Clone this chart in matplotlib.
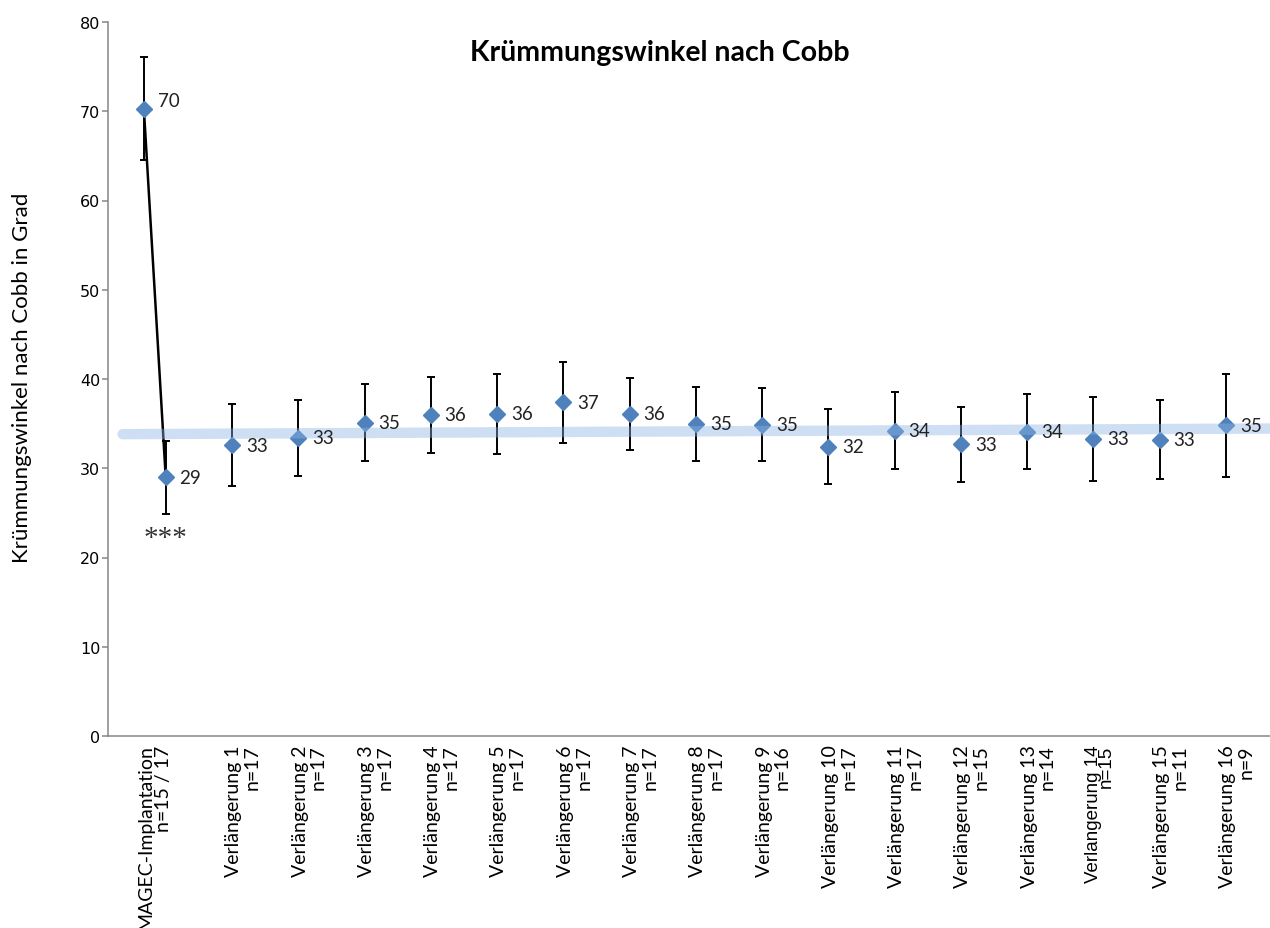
import numpy as np
import matplotlib.pyplot as plt

plt.rcParams['font.family'] = ['Lato', 'DejaVu Sans']

# Cobb angle before and directly after MAGEC implantation (first category)
pre_mean, pre_sd = 70.3, 5.8
post_mean, post_sd = 29.0, 4.1

# Cobb angle at each lengthening procedure
lengthenings = ["Verlängerung 1", "Verlängerung 2", "Verlängerung 3", "Verlängerung 4",
                "Verlängerung 5", "Verlängerung 6", "Verlängerung 7", "Verlängerung 8",
                "Verlängerung 9", "Verlängerung 10", "Verlängerung 11", "Verlängerung 12",
                "Verlängerung 13", "Verlängerung 14", "Verlängerung 15", "Verlängerung 16"]
len_means = [32.6, 33.4, 35.1, 36.0, 36.1, 37.4, 36.1, 35.0,
             34.9, 32.4, 34.2, 32.7, 34.1, 33.3, 33.2, 34.8]
len_sds = [4.6, 4.3, 4.3, 4.25, 4.5, 4.55, 4.05, 4.15,
           4.1, 4.2, 4.3, 4.2, 4.2, 4.7, 4.4, 5.8]
len_n = ["n=17", "n=17", "n=17", "n=17", "n=17", "n=17", "n=17", "n=17",
         "n=16", "n=17", "n=17", "n=15", "n=14", "n=15", "n=11", "n=9"]

first_label = "MAGEC-Implantation"
first_n = "n=15 / 17"

BLUE = '#4F81BD'
GRAY = '#868686'

fig = plt.figure(figsize=(12.7, 9.29), dpi=100)
W, H = 1270, 929
ax = fig.add_axes([108 / W, 1 - 737 / H, 1 - 108 / W, (737 - 23) / H])

x_pre = -0.33
x_post = 0.0
x_len = np.arange(1, len(lengthenings) + 1, dtype=float)

xs = np.concatenate([[x_pre, x_post], x_len])
ys = np.concatenate([[pre_mean, post_mean], len_means])
es = np.concatenate([[pre_sd, post_sd], len_sds])

# error bars
ax.errorbar(xs, ys, yerr=es, fmt='none', ecolor='black', elinewidth=1.4,
            capsize=3, capthick=1.4, zorder=2)
# drop from pre- to postoperative value
ax.plot([x_pre, x_post], [pre_mean, post_mean], color='black', lw=1.8, zorder=2)
# mean markers
ax.plot(xs, ys, linestyle='none', marker='D', ms=8.5, color=BLUE, mec=BLUE, zorder=3)

# linear trend from the postoperative value onwards
fit_x = np.concatenate([[x_post], x_len])
fit_y = np.concatenate([[post_mean], len_means])
k, d = np.polyfit(fit_x, fit_y, 1)
tx = np.array([-0.65, 17.5])
ax.plot(tx, k * tx + d, color='#8EB4E3', alpha=0.42, lw=7.5,
        solid_capstyle='round', zorder=4)

# value labels
for i, (x, v) in enumerate(zip(xs, ys)):
    dy = 6 if i == 0 else 0
    ax.annotate(f"{v:.0f}", (x, v), xytext=(10, dy), textcoords='offset points',
                ha='left', va='center', fontsize=13.5, color='#222222', zorder=5)

ax.text(x_post, 22.2, '***', ha='center', va='center', fontsize=21,
        family='Liberation Serif', color='#333333')

# axes styling
ax.set_xlim(-0.871, 16.664)
ax.set_ylim(0, 80)
ax.set_yticks(np.arange(0, 81, 10))
ax.set_xticks([])
for s in ('top', 'right'):
    ax.spines[s].set_visible(False)
for s in ('left', 'bottom'):
    ax.spines[s].set_color(GRAY)
    ax.spines[s].set_linewidth(1.1)
ax.tick_params(axis='y', direction='out', length=4, width=1.1, color=GRAY,
               labelsize=11.5, pad=1.5)
for t in ax.get_yticklabels():
    t.set_family('DejaVu Sans')

# category labels below the axis
lbl_kw = dict(xycoords=('data', 'axes fraction'), textcoords='offset points',
              rotation=90, ha='center', va='top')
ax.annotate(f"{first_label}\n{first_n}", (x_post, 0), xytext=(-8, -6),
            multialignment='right', fontsize=14, linespacing=1.1, **lbl_kw)
for x, name, n in zip(x_len, lengthenings, len_n):
    if name.endswith(" 14"):
        ax.annotate("Verlangerung 14", (x, 0), xytext=(0, -6), fontsize=13.5,
                    family='Liberation Sans', **lbl_kw)
        ax.annotate(n, (x, 0), xytext=(9, -6), fontsize=13.5,
                    family='Liberation Sans', **lbl_kw)
        continue
    ax.annotate(f"{name}\n{n}", (x, 0), xytext=(8, -6), multialignment='right',
                fontsize=14, linespacing=1.1, **lbl_kw)

fig.text(660 / W, 1 - 53 / H, "Krümmungswinkel nach Cobb", ha='center', va='center',
         fontsize=20.5, fontweight='bold')
fig.text(22 / W, 1 - 378 / H, "Krümmungswinkel nach Cobb in Grad", rotation=90,
         ha='center', va='center', fontsize=16)

fig.savefig('out.png', dpi=100)
